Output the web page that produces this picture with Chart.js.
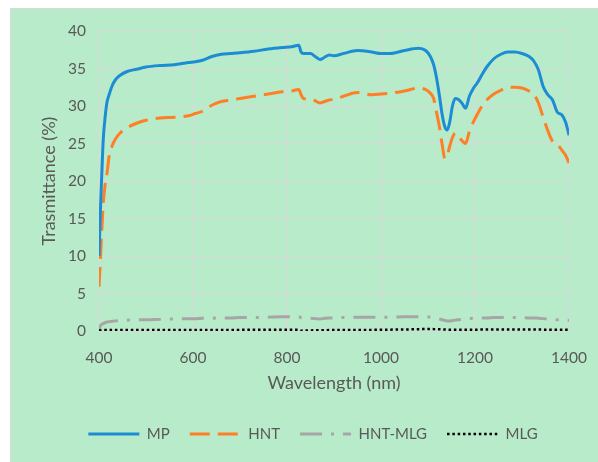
<!DOCTYPE html>
<html>
<head>
<meta charset="utf-8">
<script src="https://cdn.jsdelivr.net/npm/chart.js@4.4.1/dist/chart.umd.min.js"></script>
<style>
  html, body { margin: 0; padding: 0; background: #ffffff; }
  #frame {
    position: absolute; left: 10px; top: 8px;
    width: 587px; height: 453px;
    border-top: 1px solid #d9d9d9; border-left: 1px solid #d9d9d9;
    background: #b8ebc9;
  }
  canvas { display: block; }
</style>
</head>
<body>
<div id="frame"><canvas id="chart" width="587" height="453"></canvas></div>
<script>
// Wavelength sampling (nm) shared by all four spectra
const wavelength = [400, 403, 406, 409, 413, 417, 422, 428, 435, 445, 460, 480, 500, 530, 560, 590, 605, 620, 640, 660, 680, 700, 730, 760, 790, 810, 825, 830, 835, 850, 860, 870, 880, 890, 900, 920, 950, 980, 1000, 1020, 1050, 1080, 1095, 1105, 1112, 1118, 1124, 1130, 1136, 1141, 1146, 1152, 1158, 1164, 1172, 1180, 1188, 1196, 1205, 1215, 1225, 1240, 1255, 1270, 1285, 1300, 1315, 1325, 1335, 1345, 1355, 1365, 1375, 1385, 1393, 1400];

// Transmittance (%) per sample
const mpValues = [10, 16, 21, 25.5, 28.5, 30.5, 31.6, 32.7, 33.5, 34.1, 34.6, 34.9, 35.2, 35.4, 35.5, 35.8, 35.9, 36.1, 36.6, 36.9, 37.0, 37.1, 37.3, 37.6, 37.8, 37.9, 38.1, 37.2, 37.0, 37.0, 36.6, 36.2, 36.5, 36.8, 36.7, 37.0, 37.4, 37.2, 37.0, 37.0, 37.4, 37.7, 37.4, 36.6, 35.5, 33.8, 31.5, 28.9, 27.2, 26.8, 27.8, 30.0, 31.0, 30.9, 30.4, 29.7, 31.3, 32.3, 33.1, 34.2, 35.2, 36.3, 36.9, 37.2, 37.2, 37.0, 36.6, 36.0, 34.8, 32.6, 31.5, 30.8, 29.2, 28.8, 27.8, 26.1];

const hntValues = [5.9, 9.5, 13.5, 17, 19.5, 21, 23.5, 24.7, 25.6, 26.4, 27.1, 27.7, 28.1, 28.4, 28.5, 28.7, 29.0, 29.3, 30.1, 30.6, 30.8, 31.0, 31.3, 31.6, 31.9, 32.0, 32.2, 31.5, 31.0, 30.9, 30.7, 30.4, 30.6, 30.8, 30.9, 31.3, 31.8, 31.5, 31.6, 31.7, 32.0, 32.4, 32.2, 31.7, 31.0, 29.2, 27.3, 24.9, 23.0, 23.4, 24.6, 25.8, 26.4, 26.0, 25.4, 25.0, 26.6, 27.8, 28.9, 30.0, 30.8, 31.6, 32.1, 32.5, 32.5, 32.4, 32.0, 31.6, 30.4, 28.5, 26.7, 25.3, 24.9, 24.1, 23.4, 22.4];

const hntMlgValues = [0.3, 0.7, 0.9, 1.0, 1.1, 1.2, 1.25, 1.3, 1.35, 1.4, 1.45, 1.5, 1.5, 1.55, 1.6, 1.65, 1.65, 1.7, 1.7, 1.75, 1.75, 1.8, 1.8, 1.85, 1.9, 1.9, 1.9, 1.75, 1.7, 1.7, 1.65, 1.6, 1.7, 1.75, 1.75, 1.8, 1.85, 1.85, 1.85, 1.85, 1.9, 1.9, 1.9, 1.85, 1.8, 1.7, 1.6, 1.5, 1.4, 1.35, 1.35, 1.4, 1.45, 1.5, 1.55, 1.6, 1.65, 1.7, 1.7, 1.75, 1.75, 1.8, 1.8, 1.8, 1.8, 1.8, 1.75, 1.75, 1.7, 1.65, 1.6, 1.55, 1.5, 1.5, 1.45, 1.4];

const mlgValues = [0.1, 0.12, 0.14, 0.15, 0.15, 0.15, 0.15, 0.15, 0.15, 0.15, 0.15, 0.15, 0.15, 0.15, 0.15, 0.15, 0.15, 0.15, 0.15, 0.15, 0.15, 0.15, 0.16, 0.17, 0.18, 0.18, 0.18, 0.05, 0.06, 0.08, 0.09, 0.1, 0.11, 0.12, 0.12, 0.13, 0.14, 0.15, 0.16, 0.18, 0.2, 0.24, 0.26, 0.26, 0.25, 0.24, 0.23, 0.22, 0.2, 0.19, 0.18, 0.18, 0.18, 0.18, 0.18, 0.18, 0.18, 0.18, 0.18, 0.19, 0.19, 0.2, 0.2, 0.2, 0.2, 0.2, 0.2, 0.19, 0.19, 0.18, 0.18, 0.17, 0.17, 0.16, 0.16, 0.15];

const seriesLabels = ['MP', 'HNT', 'HNT-MLG', 'MLG'];

// Axis ranges and tick spacing
const xMin = 400, xMax = 1400, xStep = 200;
const yMin = 0, yMax = 40, yStep = 5;

const textGray = '#595959';
const gridGray = '#d9d9d9';

function toPoints(values) {
  return wavelength.map((w, i) => ({ x: w, y: values[i] }));
}

Chart.defaults.font.family = 'Lato, "Open Sans", sans-serif';
Chart.defaults.color = textGray;

const datasets = [
  { label: seriesLabels[0], data: toPoints(mpValues), borderColor: '#1c8dd5', borderWidth: 3, borderDash: [] },
  { label: seriesLabels[1], data: toPoints(hntValues), borderColor: '#ff7f27', borderWidth: 3, borderDash: [20, 8] },
  { label: seriesLabels[2], data: toPoints(hntMlgValues), borderColor: '#a6a6a6', borderWidth: 3, borderDash: [22, 9, 3, 9] },
  { label: seriesLabels[3], data: toPoints(mlgValues), borderColor: '#000000', borderWidth: 2.5, borderDash: [2.5, 2.8] }
].map(d => Object.assign(d, {
  pointRadius: 0,
  pointHoverRadius: 0,
  fill: false,
  cubicInterpolationMode: 'monotone'
}));

// Invisible tick marks keep label offsets out of the edge padding
const hiddenTicks = { color: gridGray, lineWidth: 1, drawTicks: true, tickColor: 'rgba(0,0,0,0)' };

new Chart(document.getElementById('chart'), {
  type: 'line',
  data: { datasets },
  options: {
    responsive: false,
    animation: false,
    events: [],
    layout: { padding: { top: 22, right: 29, bottom: 10.5, left: 46 } },
    scales: {
      x: {
        type: 'linear',
        min: xMin, max: xMax,
        afterFit: s => { s.height = 75.5; },
        ticks: { stepSize: xStep, padding: 3, font: { size: 15.5 }, color: textGray, callback: v => String(v) },
        grid: Object.assign({ tickLength: 15 }, hiddenTicks),
        border: { color: gridGray },
        title: { display: true, text: 'Wavelength (nm)', font: { size: 18 }, color: textGray, padding: { top: 0, bottom: 12.7 } }
      },
      y: {
        min: yMin, max: yMax,
        afterFit: s => { s.width = 42; },
        ticks: { stepSize: yStep, padding: 3, font: { size: 15.5 }, color: textGray },
        grid: Object.assign({ tickLength: 10 }, hiddenTicks),
        border: { color: gridGray },
        title: { display: true, text: 'Trasmittance (%)', font: { size: 18 }, color: textGray, padding: { top: -18.5, bottom: 0 } }
      }
    },
    plugins: {
      tooltip: { enabled: false },
      legend: {
        position: 'bottom',
        labels: {
          usePointStyle: true,
          pointStyleWidth: 51,
          padding: 20,
          font: { size: 15 },
          color: textGray,
          generateLabels: chart => chart.data.datasets.map((ds, i) => ({
            text: ds.label,
            fontColor: textGray,
            fillStyle: ds.borderColor,
            strokeStyle: ds.borderColor,
            lineWidth: ds.borderWidth,
            lineDash: ds.borderDash,
            lineCap: 'butt',
            pointStyle: 'line',
            hidden: false,
            datasetIndex: i
          }))
        }
      }
    }
  }
});
</script>
</body>
</html>
